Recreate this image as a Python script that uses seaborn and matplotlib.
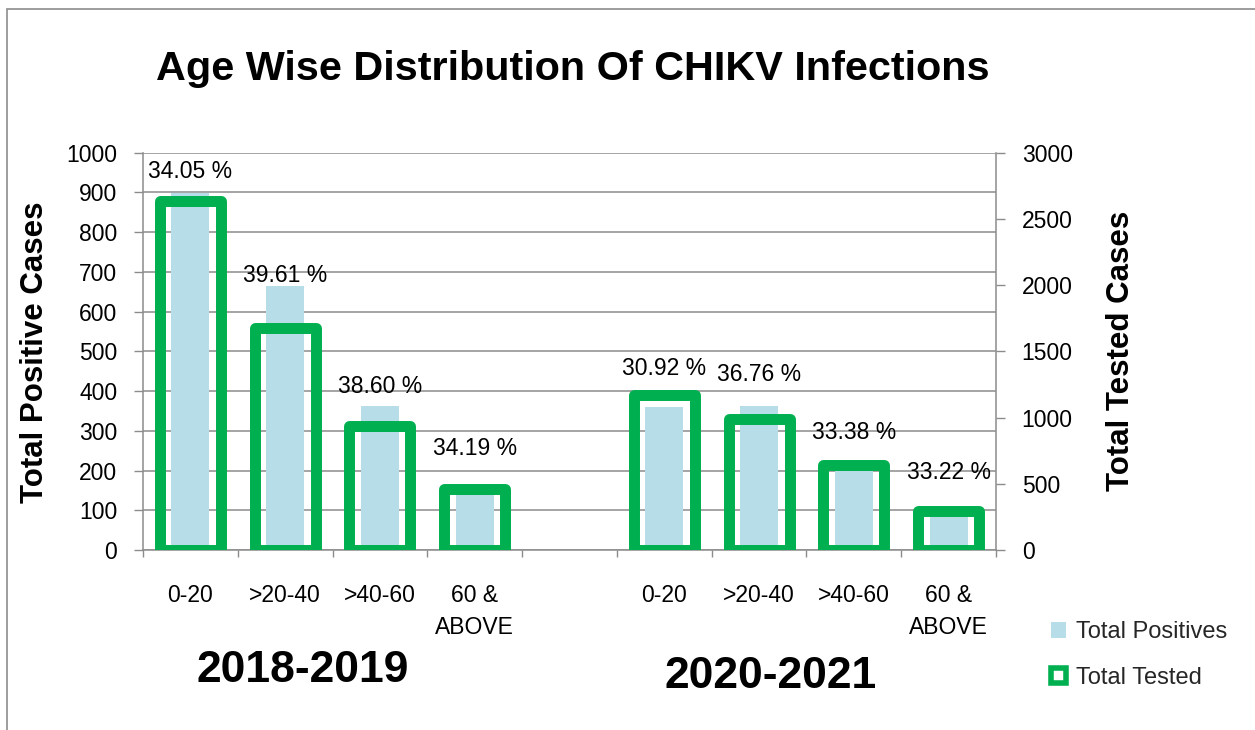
import numpy as np
import pandas as pd
import seaborn as sns
import matplotlib
matplotlib.use("Agg")
import matplotlib.pyplot as plt
from matplotlib.patches import Patch, Rectangle

# ---------------- data ----------------
periods = ["2018-2019", "2020-2021"]
age_groups = ["0-20", ">20-40", ">40-60", "60 &\nABOVE"]
positives_2018 = [898, 665, 363, 157]
tested_2018 = [2637, 1679, 940, 459]
positives_2020 = [361, 363, 214, 97]
tested_2020 = [1168, 988, 641, 292]
pct_2018 = [34.05, 39.61, 38.60, 34.19]
pct_2020 = [30.92, 36.76, 33.38, 33.22]
left_ticks = list(range(0, 1001, 100))
right_ticks = list(range(0, 3001, 500))

# ---------------- layout ----------------
# baseline of the percentage labels, in left-axis units (hand placed in source)
pct_label_baseline = [937, 675, 394, 239, 440, 426, 279, 178]

BLUE = "#B7DDE8"
GREEN = "#00B050"
GRAY = "#8C8C8C"

sns.set_theme(style="white")
plt.rcParams["font.family"] = ["Liberation Sans", "DejaVu Sans"]

n = len(age_groups)
xpos = [g * (n + 1) + i for g in range(len(periods)) for i in range(n)]
df = pd.DataFrame({
    "x": xpos,
    "positives": positives_2018 + positives_2020,
    "tested": tested_2018 + tested_2020,
    "pct": pct_2018 + pct_2020,
})

W, H = 1255, 730
fig = plt.figure(figsize=(W / 100, H / 100), dpi=100)
fig.patch.set_facecolor("white")
ax = fig.add_axes([143 / W, 1 - 550 / H, (996 - 143) / W, (550 - 152.7) / H])

sns.barplot(data=df, x="x", y="positives", native_scale=True, width=0.4,
            color=BLUE, saturation=1, errorbar=None, linewidth=0, ax=ax)

ax2 = ax.twinx()
sns.barplot(data=df, x="x", y="tested", native_scale=True, width=0.644,
            color=GREEN, saturation=1, fill=False, errorbar=None,
            linewidth=7.9, ax=ax2, joinstyle="round")
for p in ax2.patches:
    p.set_edgecolor(GREEN)
    p.set_facecolor("none")
    p.set_joinstyle("round")

total_slots = len(periods) * (n + 1) - 1
ax.set_xlim(-0.5, total_slots - 0.5)
ax.set_ylim(0, 1000)
ax2.set_ylim(0, 3000)

# left axis
ax.set_yticks(left_ticks)
ax.yaxis.grid(True, color=GRAY, linewidth=1.1)
ax.set_axisbelow(True)
ax.tick_params(axis="y", which="major", direction="out", length=6.5, width=1,
               color=GRAY, labelsize=16.5, pad=12, labelcolor="black", left=True)
# x axis
ax.set_xticks(xpos)
ax.set_xticklabels(age_groups * len(periods), fontsize=16.5, linespacing=1.5)
ax.set_xticks(np.arange(-0.5, total_slots, 1.0), minor=True)
ax.tick_params(axis="x", which="major", length=0, pad=24.5, labelcolor="black")
ax.tick_params(axis="x", which="minor", direction="out", length=5, width=1,
               color=GRAY, bottom=True)
for s in ["top", "right"]:
    ax.spines[s].set_visible(False)
for s in ["left", "bottom"]:
    ax.spines[s].set_color(GRAY)
    ax.spines[s].set_linewidth(1.1)
ax.set_xlabel("")
ax.set_ylabel("Total Positive Cases", fontsize=22.5, fontweight="bold",
              va="center", ha="center", color="black")
ax.yaxis.set_label_coords((35 - 143) / (996 - 143), 0.498)

# right axis
ax2.set_yticks(right_ticks)
ax2.tick_params(axis="y", which="major", direction="out", length=6.5, width=1,
                color=GRAY, labelsize=16.5, pad=12, labelcolor="black", right=True)
for s in ["top", "left", "bottom"]:
    ax2.spines[s].set_visible(False)
ax2.spines["right"].set_color(GRAY)
ax2.spines["right"].set_linewidth(1.1)
ax2.set_xlabel("")
ax2.set_ylabel("Total Tested Cases", fontsize=22.5, fontweight="bold",
               va="center", ha="center", color="black", rotation=90)
ax2.yaxis.set_label_coords((1121 - 143) / (996 - 143), 0.5)
ax2.grid(False)

# percentage labels
for xv, pv, yb in zip(df["x"], df["pct"], pct_label_baseline):
    ax.text(xv, yb, f"{pv:.2f} %", ha="center", va="baseline", fontsize=16.5,
            color="black")

# title & period labels
fig.text(573 / W, 1 - 80 / H, "Age Wise Distribution Of CHIKV Infections",
         ha="center", va="baseline", fontsize=29.8, fontweight="bold", color="black")
fig.text(302.5 / W, 1 - 681.7 / H, periods[0], ha="center", va="baseline",
         fontsize=32, fontweight="bold", color="black")
fig.text(770.5 / W, 1 - 688.3 / H, periods[1], ha="center", va="baseline",
         fontsize=32, fontweight="bold", color="black")

# legend
handles = [Patch(facecolor=BLUE, edgecolor="none", label="Total Positives"),
           Patch(facecolor="white", edgecolor=GREEN, linewidth=4, label="Total Tested")]
fig.legend(handles=handles, loc="upper left", bbox_to_anchor=(1051 / W, 1 - 621 / H),
           frameon=False, fontsize=17, handlelength=0.64, handleheight=0.64,
           handletextpad=0.4, labelspacing=1.0, borderpad=0, borderaxespad=0)

# outer chart border
fig.add_artist(Rectangle((7 / W, -0.1), 1.2, (H - 9) / H + 0.1,
                         transform=fig.transFigure, fill=False,
                         edgecolor=GRAY, linewidth=1.2))

fig.savefig("out.png", dpi=100, facecolor="white")
